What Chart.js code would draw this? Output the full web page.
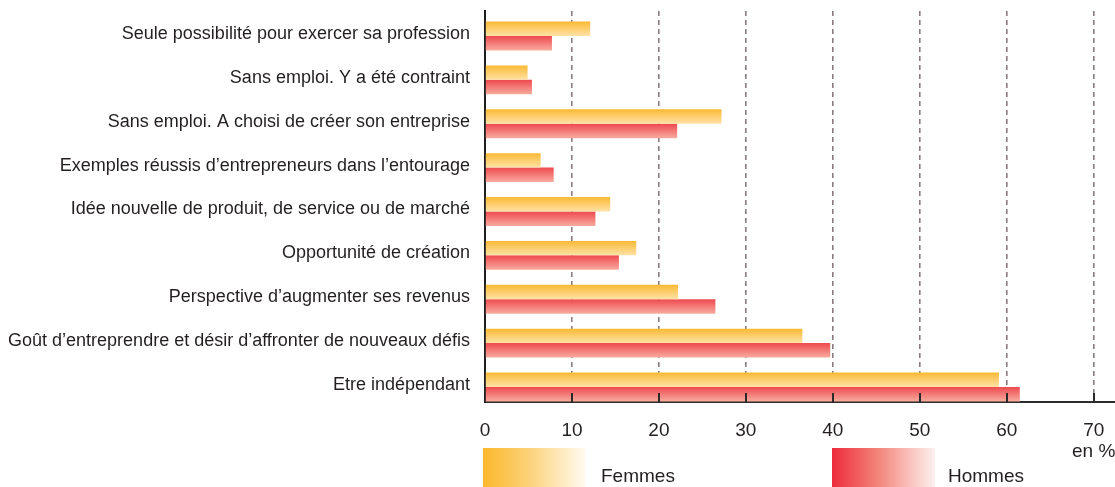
<!DOCTYPE html>
<html>
<head>
<meta charset="utf-8">
<script src="https://cdn.jsdelivr.net/npm/chart.js@4.4.1/dist/chart.umd.min.js"></script>
<style>
  html, body { margin: 0; padding: 0; background: #ffffff; }
  #wrap { position: relative; width: 1115px; height: 487px; overflow: hidden; }
  #wrap canvas { position: absolute; left: 0; top: 0; }
  .lg-box { position: absolute; top: 448px; width: 103px; height: 39px; }
  .lg-text { position: absolute; top: 464px; font-family: "Liberation Sans", Arial, sans-serif; font-size: 19px; color: #231f20; line-height: 23px; }
</style>
</head>
<body>
<div id="wrap">
  <canvas id="c" width="1115" height="487"></canvas>
  <div class="lg-box" style="left:483px; background: linear-gradient(to right, #fbb72b 0%, #fcd27a 45%, #fffbf2 100%);"></div>
  <div class="lg-text" style="left:601px;">Femmes</div>
  <div class="lg-box" style="left:832px; background: linear-gradient(to right, #ee2b3d 0%, #f3857a 45%, #fdf1ef 100%);"></div>
  <div class="lg-text" style="left:948px;">Hommes</div>
</div>
<script>
const categories = [
  "Seule possibilité pour exercer sa profession",
  "Sans emploi. Y a été contraint",
  "Sans emploi. A choisi de créer son entreprise",
  "Exemples réussis d\u2019entrepreneurs dans l\u2019entourage",
  "Idée nouvelle de produit, de service ou de marché",
  "Opportunité de création",
  "Perspective d\u2019augmenter ses revenus",
  "Goût d\u2019entreprendre et désir d\u2019affronter de nouveaux défis",
  "Etre indépendant"
];
const femmes = [12.1, 4.9, 27.2, 6.4, 14.4, 17.4, 22.2, 36.5, 59.1];
const hommes = [7.7, 5.4, 22.1, 7.9, 12.7, 15.4, 26.5, 39.7, 61.5];
const seriesNames = ["Femmes", "Hommes"];
const xTicks = [0, 10, 20, 30, 40, 50, 60, 70];
const unitLabel = "en %";

const FONT = '"Liberation Sans", Arial, Helvetica, sans-serif';
const TEXT = '#231f20';

const gradStops = [
  ['#fbb933', '#fee2a6'],
  ['#ee4a4f', '#f9ab9f']
];
const CAT_PCT = 0.66;

function barGradient(c) {
  const chart = c.chart;
  const ys = chart.scales && chart.scales.y;
  if (!ys || !chart.chartArea) return gradStops[c.datasetIndex][0];
  const center = ys.getPixelForValue(c.dataIndex);
  const spacing = Math.abs(ys.getPixelForValue(1) - ys.getPixelForValue(0));
  const chunk = spacing * CAT_PCT / 2;
  const top = c.datasetIndex === 0 ? center - chunk : center;
  const g = chart.ctx.createLinearGradient(0, top, 0, top + chunk);
  g.addColorStop(0, gradStops[c.datasetIndex][0]);
  g.addColorStop(1, gradStops[c.datasetIndex][1]);
  return g;
}

const innerTicks = {
  id: 'innerTicks',
  afterDraw(chart) {
    const xs = chart.scales.x;
    const ctx = chart.ctx;
    const b = chart.chartArea.bottom;
    ctx.save();
    ctx.strokeStyle = '#2a2a2a';
    ctx.lineWidth = 2;
    xs.ticks.forEach((t, i) => {
      if (t.value === 0) return;
      const px = Math.round(xs.getPixelForTick(i));
      ctx.beginPath();
      ctx.moveTo(px, b - 9);
      ctx.lineTo(px, b);
      ctx.stroke();
    });
    ctx.restore();
  }
};

function noPad(s) {
  s.paddingTop = 0; s.paddingBottom = 0; s.paddingLeft = 0; s.paddingRight = 0;
}

new Chart(document.getElementById('c'), {
  type: 'bar',
  data: {
    datasets: [
      { label: seriesNames[0], data: femmes.map((v, i) => ({ x: v, y: i })), backgroundColor: barGradient, borderWidth: 0 },
      { label: seriesNames[1], data: hommes.map((v, i) => ({ x: v, y: i })), backgroundColor: barGradient, borderWidth: 0 }
    ]
  },
  options: {
    indexAxis: 'y',
    responsive: false,
    animation: false,
    layout: { padding: { top: 11, right: 0, bottom: 0, left: 0 } },
    datasets: { bar: { categoryPercentage: CAT_PCT, barPercentage: 1.0 } },
    plugins: { legend: { display: false }, tooltip: { enabled: false } },
    scales: {
      x: {
        type: 'linear',
        position: 'bottom',
        min: 0,
        max: 72.45,
        z: 1,
        afterFit(s) { s.height = 85; noPad(s); },
        afterBuildTicks(s) { s.ticks = xTicks.map(v => ({ value: v })); },
        grid: {
          color: (c) => (c.tick && c.tick.value === 0) ? 'rgba(0,0,0,0)' : '#8a7c7d',
          lineWidth: 1.6,
          drawTicks: false
        },
        border: { display: true, color: '#2d2d2d', width: 2, dash: [5, 4] },
        ticks: {
          padding: 18,
          color: TEXT,
          font: { family: FONT, size: 19, lineHeight: 1.1 },
          maxRotation: 0,
          autoSkip: false,
          callback: (v) => v === xTicks[xTicks.length - 1] ? [String(v), unitLabel] : String(v)
        }
      },
      y: {
        type: 'linear',
        reverse: true,
        offset: false,
        min: -0.5698,
        max: 8.342,
        z: 1,
        afterFit(s) { s.width = 485; noPad(s); },
        afterBuildTicks(s) { s.ticks = categories.map((_, i) => ({ value: i })); },
        grid: { display: false, drawTicks: false, offset: false },
        border: { display: true, color: '#1e1e1e', width: 2 },
        ticks: {
          padding: 15,
          labelOffset: -2,
          color: TEXT,
          autoSkip: false,
          font: { family: FONT, size: 18 },
          callback: (v) => categories[v] !== undefined ? categories[v] : ''
        }
      }
    }
  },
  plugins: [innerTicks]
});
</script>
</body>
</html>
